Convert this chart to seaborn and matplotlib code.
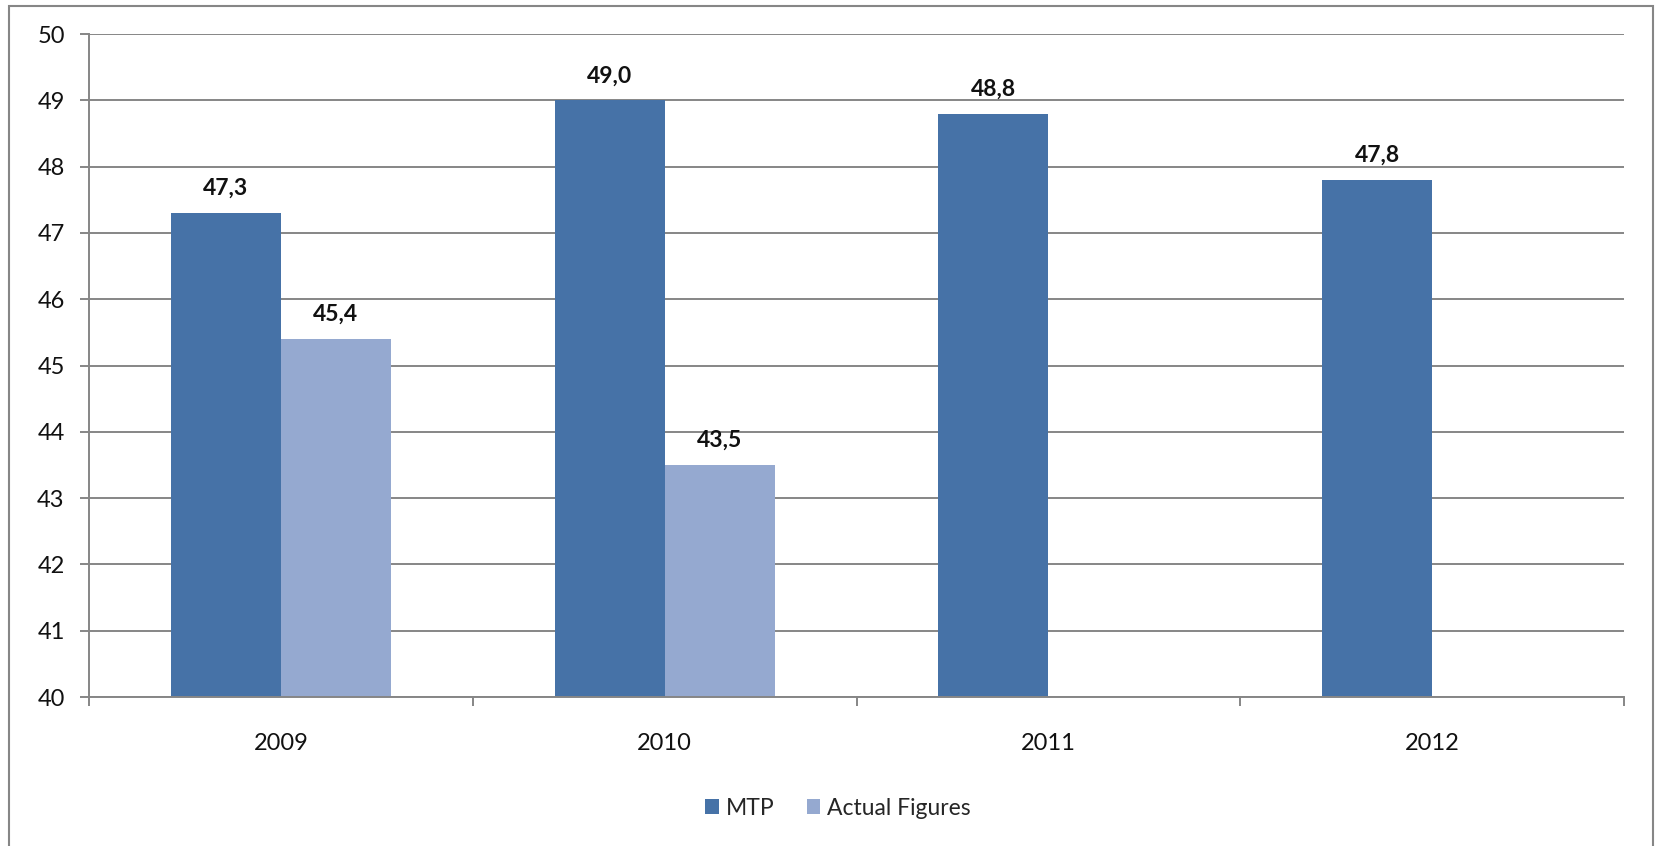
import matplotlib
matplotlib.use("Agg")
import matplotlib.pyplot as plt
import seaborn as sns
import pandas as pd
import numpy as np
from matplotlib.patches import Rectangle

years = ["2009", "2010", "2011", "2012"]
mtp = [47.3, 49.0, 48.8, 47.8]
actual = [45.4, 43.5, np.nan, np.nan]
series_names = ["MTP", "Actual Figures"]
colors = ["#4672A7", "#95A9D0"]
yticks = [40, 41, 42, 43, 44, 45, 46, 47, 48, 49, 50]

df = pd.DataFrame({
    "year": years * 2,
    "value": mtp + actual,
    "series": [series_names[0]] * len(years) + [series_names[1]] * len(years),
})

sns.set_theme(style="white")
plt.rcParams['font.family'] = ['Lato', 'DejaVu Sans']

fig = plt.figure(figsize=(16.55, 8.46), dpi=100)
ax = fig.add_axes([89 / 1655, 1 - 697 / 846, (1624 - 89) / 1655, (697 - 34) / 846])

sns.barplot(data=df, x="year", y="value", hue="series", hue_order=series_names,
            palette=colors, width=0.573, ax=ax, saturation=1, legend=True,
            linewidth=0, errorbar=None)

ax.set_ylim(40, 50)
ax.set_xlim(-0.5, len(years) - 0.5)
ax.set_yticks(yticks)
ax.set_yticklabels([str(t) for t in yticks])
ax.yaxis.grid(True, color="#868686", linewidth=1.4)
ax.set_axisbelow(True)
ax.set_xlabel("")
ax.set_ylabel("")

for s in ["top", "right"]:
    ax.spines[s].set_visible(False)
for s in ["left", "bottom"]:
    ax.spines[s].set_visible(True)
    ax.spines[s].set_color("#868686")
    ax.spines[s].set_linewidth(1.4)

ax.tick_params(axis="y", which="major", left=True, length=6.5, width=1.4,
               color="#868686", labelsize=17, pad=11, labelcolor="#111111")
ax.tick_params(axis="x", which="major", bottom=False, labelsize=17, pad=20,
               labelcolor="#111111")
ax.set_xticks(np.arange(-0.5, len(years) + 0.5, 1), minor=True)
ax.tick_params(axis="x", which="minor", bottom=True, length=6.5, width=1.4,
               color="#868686")

for cont in ax.containers:
    for bar in cont:
        if bar is None:
            continue
        h = bar.get_height()
        if h is None or np.isnan(h):
            continue
        ax.annotate(f"{h:.1f}".replace(".", ","),
                    (bar.get_x() + bar.get_width() / 2, bar.get_y() + h),
                    xytext=(0, 10), textcoords="offset points",
                    ha="center", va="bottom", fontsize=16.5, fontweight="bold",
                    color="#111111")

handles, labs = ax.get_legend_handles_labels()
if ax.get_legend() is not None:
    ax.get_legend().remove()
fig.legend(handles, labs, loc="center", bbox_to_anchor=(838 / 1655, 1 - 808 / 846),
           ncol=2, frameon=False, fontsize=16.5, handlelength=0.6, handleheight=0.6,
           handletextpad=0.3, columnspacing=1.4)

fig.patches.append(Rectangle((9 / 1655, -0.05), (1653 - 9) / 1655, 1.05 - 6 / 846,
                             transform=fig.transFigure, fill=False,
                             edgecolor="#868686", linewidth=1.5))

fig.savefig("out.png", dpi=100)
